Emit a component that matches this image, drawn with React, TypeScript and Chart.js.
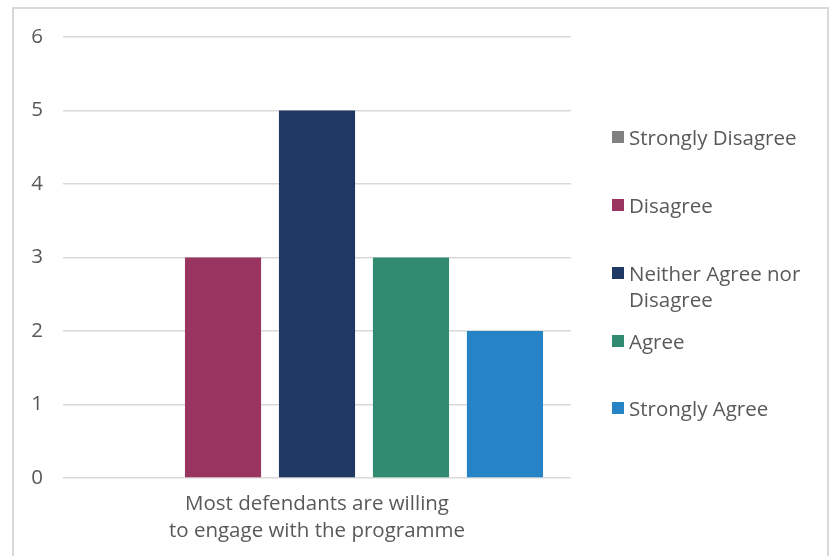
import React, { useEffect, useRef } from "react";
import { Chart, registerables } from "chart.js";

Chart.register(...registerables);

const categoryLines = ["Most defendants are willing", "to engage with the programme"];
const seriesNames = ["Strongly Disagree", "Disagree", "Neither Agree nor Disagree", "Agree", "Strongly Agree"];
const seriesValues = [0, 3, 5, 3, 2];
const seriesColors = ["#808080", "#993360", "#203864", "#318B70", "#2683C6"];
const yTicks = [0, 1, 2, 3, 4, 5, 6];

const FONT = "'Open Sans', sans-serif";
const TEXT = "#595959";
const FS = 20.5;

export default function App() {
  const ref = useRef<HTMLCanvasElement>(null);
  useEffect(() => {
    if (!ref.current) return;
    const chart = new Chart(ref.current, {
      type: "bar",
      data: {
        labels: [categoryLines],
        datasets: seriesNames.map((name, i) => ({
          label: name,
          data: [seriesValues[i]],
          backgroundColor: seriesColors[i],
          borderWidth: 0,
          categoryPercentage: 0.925,
          barPercentage: 0.81,
        })),
      },
      options: {
        responsive: false,
        animation: false,
        layout: { padding: { left: 0, top: 37, right: 259, bottom: 0 } },
        plugins: { legend: { display: false }, tooltip: { enabled: false } },
        scales: {
          x: {
            grid: { display: false },
            border: { display: false },
            ticks: {
              color: TEXT,
              font: { family: FONT, size: FS, lineHeight: "27px" },
              padding: 5,
              maxRotation: 0,
              autoSkip: false,
            },
            afterFit: (s: any) => {
              s.height = 78;
            },
          },
          y: {
            min: yTicks[0],
            max: yTicks[yTicks.length - 1],
            grid: { color: "#d9d9d9", lineWidth: 1.5, drawTicks: false },
            border: { display: false },
            ticks: {
              stepSize: 1,
              color: TEXT,
              font: { family: FONT, size: FS },
              padding: 20,
            },
            afterFit: (s: any) => {
              s.width = 63;
            },
          },
        },
      },
    });
    return () => chart.destroy();
  }, []);

  const legendTop = [137, 205, 273, 341, 408];

  return (
    <div style={{ position: "absolute", left: 0, top: 0, width: 830, height: 556, overflow: "hidden", background: "#fff" }}>
      <div
        style={{
          position: "absolute",
          left: 12,
          top: 7,
          width: 817,
          height: 620,
          boxSizing: "border-box",
          border: "2px solid #d9d9d9",
        }}
      />
      <canvas ref={ref} width={830} height={556} style={{ position: "absolute", left: 0, top: 0, width: 830, height: 556 }} />
      {seriesNames.map((name, i) => (
        <div key={name}>
          <div
            style={{
              position: "absolute",
              left: 612,
              top: legendTop[i] - 6,
              width: 12,
              height: 12,
              background: seriesColors[i],
            }}
          />
          <div
            style={{
              position: "absolute",
              left: 629,
              top: legendTop[i] - 13,
              width: 196,
              fontFamily: FONT,
              fontSize: FS,
              lineHeight: "26px",
              color: TEXT,
              whiteSpace: "normal",
            }}
          >
            {name}
          </div>
        </div>
      ))}
    </div>
  );
}
